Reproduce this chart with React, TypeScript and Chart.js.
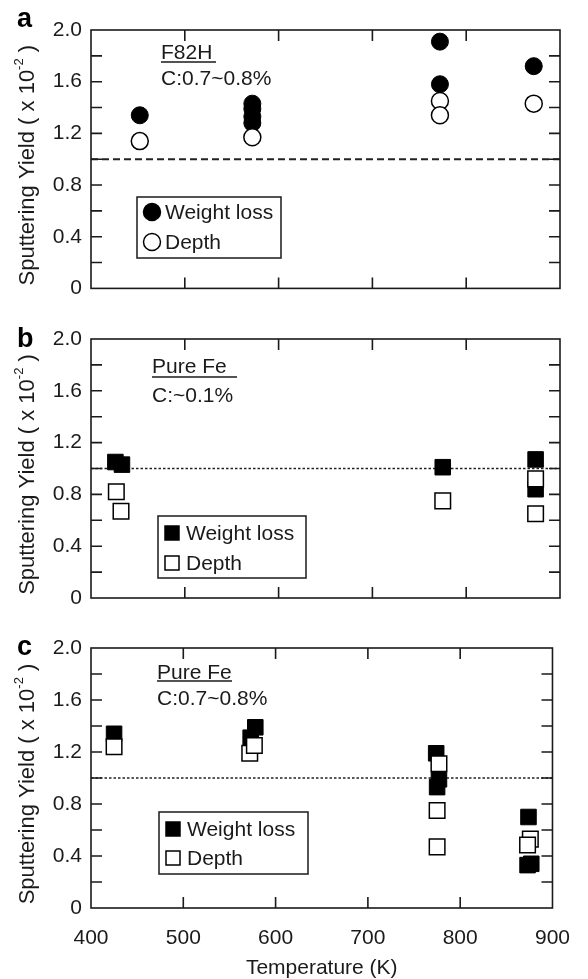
import React, { useEffect, useRef } from 'react';
import { Chart, registerables } from 'chart.js';
Chart.register(...registerables);

const FONT = '"Liberation Sans", Arial, Helvetica, sans-serif';
const INK = '#1a1a1a';

// Axis ticks
const X_TICKS = [400, 500, 600, 700, 800, 900];
const Y_TICKS = [0, 0.4, 0.8, 1.2, 1.6, 2.0];
const Y_MINOR_TICKS = [0.2, 0.6, 1.0, 1.4, 1.8];
// Reference line (yield = 1.0)
const REF_T = [400, 900];
const REF_Y = [1.0, 1.0];

// Panel a: F82H
const aWeightT = [452, 572, 572, 572, 572, 772, 772, 872];
const aWeightY = [1.34, 1.43, 1.39, 1.33, 1.28, 1.91, 1.58, 1.72];
const aDepthT = [452, 572, 772, 772, 872];
const aDepthY = [1.14, 1.17, 1.45, 1.34, 1.43];
// Panel b: Pure Fe, C ~0.1%
const bWeightT = [426, 433, 775, 874, 874];
const bWeightY = [1.05, 1.03, 1.01, 1.07, 0.84];
const bDepthT = [427, 432, 775, 874, 874];
const bDepthY = [0.82, 0.67, 0.75, 0.92, 0.65];
// Panel c: Pure Fe, C 0.7~0.8%
const cWeightT = [425, 573, 578, 774, 777, 775, 874, 873, 877];
const cWeightY = [1.34, 1.31, 1.39, 1.19, 0.99, 0.93, 0.70, 0.33, 0.34];
const cDepthT = [425, 572, 577, 777, 775, 775, 876, 873];
const cDepthY = [1.24, 1.19, 1.25, 1.11, 0.75, 0.47, 0.53, 0.485];

const LEGEND_LABELS = ['Weight loss', 'Depth'];
const Y_TITLE = 'Sputtering Yield ( x 10';
const Y_TITLE_SUP = '-2';
const Y_TITLE_END = ' )';
const X_TITLE = 'Temperature (K)';

type Panel = {
  key: string;
  letter: string;
  shape: 'circle' | 'rect';
  weightT: number[]; weightY: number[]; depthT: number[]; depthY: number[];
  notes: string[];
  canvasTop: number; canvasH: number; areaTop: number; xAxisH: number; showX: boolean;
  letterY: number;
  noteX: number; noteY: number[]; underline: number[];
  legend: { x1: number; y1: number; x2: number; y2: number; mx: number; my: number[]; tx: number };
  dash: number[]; dashW: number;
};

const PANELS: Panel[] = [
  {
    key: 'a', letter: 'a', shape: 'circle',
    weightT: aWeightT, weightY: aWeightY, depthT: aDepthT, depthY: aDepthY,
    notes: ['F82H', 'C:0.7~0.8%'],
    canvasTop: 0, canvasH: 310, areaTop: 30, xAxisH: 20, showX: false,
    letterY: 27,
    noteX: 161, noteY: [53, 79], underline: [161, 216, 62],
    legend: { x1: 137, y1: 197, x2: 281, y2: 258, mx: 152, my: [212, 242], tx: 165 },
    dash: [7, 4], dashW: 2,
  },
  {
    key: 'b', letter: 'b', shape: 'rect',
    weightT: bWeightT, weightY: bWeightY, depthT: bDepthT, depthY: bDepthY,
    notes: ['Pure Fe', 'C:~0.1%'],
    canvasTop: 310, canvasH: 310, areaTop: 29, xAxisH: 22, showX: false,
    letterY: 37,
    noteX: 152, noteY: [57, 86], underline: [152, 237, 67],
    legend: { x1: 158, y1: 206, x2: 306, y2: 268, mx: 172, my: [223, 253], tx: 186 },
    dash: [2.5, 2], dashW: 1.5,
  },
  {
    key: 'c', letter: 'c', shape: 'rect',
    weightT: cWeightT, weightY: cWeightY, depthT: cDepthT, depthY: cDepthY,
    notes: ['Pure Fe', 'C:0.7~0.8%'],
    canvasTop: 620, canvasH: 359, areaTop: 28, xAxisH: 71, showX: true,
    letterY: 35,
    noteX: 157, noteY: [53, 79], underline: [157, 232, 61],
    legend: { x1: 159, y1: 192, x2: 308, y2: 254, mx: 173, my: [209, 238], tx: 187 },
    dash: [2.5, 2], dashW: 1.5,
  },
];

function drawMarker(ctx: CanvasRenderingContext2D, shape: string, x: number, y: number, filled: boolean) {
  ctx.beginPath();
  if (shape === 'circle') {
    ctx.arc(x, y, 8.5, 0, Math.PI * 2);
  } else {
    ctx.rect(x - 7, y - 7, 14, 14);
  }
  ctx.fillStyle = filled ? '#000' : '#fff';
  ctx.fill();
  ctx.lineWidth = 1.5;
  ctx.strokeStyle = '#000';
  ctx.stroke();
}

function decoPlugin(p: Panel) {
  return {
    id: 'deco_' + p.key,
    afterDraw(chart: any) {
      const ctx: CanvasRenderingContext2D = chart.ctx;
      const { left, right, top, bottom } = chart.chartArea;
      const xs = chart.scales.x;
      const ys = chart.scales.y;
      ctx.save();
      // frame
      ctx.strokeStyle = INK;
      ctx.lineWidth = 1.6;
      ctx.strokeRect(left, top, right - left, bottom - top);
      // inward ticks
      const TL = 11;
      ctx.beginPath();
      [...Y_TICKS, ...Y_MINOR_TICKS].forEach((v) => {
        if (v <= Y_TICKS[0] || v >= Y_TICKS[Y_TICKS.length - 1]) return;
        const y = ys.getPixelForValue(v);
        ctx.moveTo(left, y); ctx.lineTo(left + TL, y);
        ctx.moveTo(right, y); ctx.lineTo(right - TL, y);
      });
      X_TICKS.forEach((v) => {
        if (v <= X_TICKS[0] || v >= X_TICKS[X_TICKS.length - 1]) return;
        const x = xs.getPixelForValue(v);
        ctx.moveTo(x, top); ctx.lineTo(x, top + TL);
        ctx.moveTo(x, bottom); ctx.lineTo(x, bottom - TL);
      });
      ctx.stroke();

      // panel letter
      ctx.fillStyle = '#000';
      ctx.font = `bold 27px ${FONT}`;
      ctx.textAlign = 'left';
      ctx.textBaseline = 'alphabetic';
      ctx.fillText(p.letter, 17, p.letterY);

      // notes
      ctx.fillStyle = INK;
      ctx.font = `21px ${FONT}`;
      ctx.textBaseline = 'middle';
      p.notes.forEach((t, i) => ctx.fillText(t, p.noteX, p.noteY[i]));
      ctx.beginPath();
      ctx.lineWidth = 1.5;
      ctx.moveTo(p.underline[0], p.underline[2]);
      ctx.lineTo(p.underline[1], p.underline[2]);
      ctx.stroke();

      // legend
      const L = p.legend;
      ctx.lineWidth = 1.5;
      ctx.strokeStyle = INK;
      ctx.strokeRect(L.x1, L.y1, L.x2 - L.x1, L.y2 - L.y1);
      LEGEND_LABELS.forEach((t, i) => {
        drawMarker(ctx, p.shape, L.mx, L.my[i], i === 0);
        ctx.fillStyle = INK;
        ctx.font = `21px ${FONT}`;
        ctx.textBaseline = 'middle';
        ctx.textAlign = 'left';
        ctx.fillText(t, L.tx, L.my[i] + 1);
      });

      // y title (rotated with superscript)
      ctx.save();
      const cy = (top + bottom) / 2 + 6;
      ctx.translate(28, cy);
      ctx.rotate(-Math.PI / 2);
      const mainFont = `22px ${FONT}`;
      const supFont = `13px ${FONT}`;
      ctx.font = mainFont;
      const w1 = ctx.measureText(Y_TITLE).width;
      const w3 = ctx.measureText(Y_TITLE_END).width;
      ctx.font = supFont;
      const w2 = ctx.measureText(Y_TITLE_SUP).width;
      const total = w1 + w2 + w3;
      const x0 = -total / 2;
      ctx.fillStyle = INK;
      ctx.textAlign = 'left';
      ctx.textBaseline = 'middle';
      ctx.font = mainFont;
      ctx.fillText(Y_TITLE, x0, 0);
      ctx.font = supFont;
      ctx.fillText(Y_TITLE_SUP, x0 + w1, -9);
      ctx.font = mainFont;
      ctx.fillText(Y_TITLE_END, x0 + w1 + w2, 0);
      ctx.restore();

      // x title
      if (p.showX) {
        ctx.fillStyle = INK;
        ctx.font = `21px ${FONT}`;
        ctx.textAlign = 'center';
        ctx.textBaseline = 'middle';
        ctx.fillText(X_TITLE, (left + right) / 2, 348);
      }
      ctx.restore();
    },
  };
}

function PanelChart({ p }: { p: Panel }) {
  const ref = useRef<HTMLCanvasElement | null>(null);
  useEffect(() => {
    if (!ref.current) return;
    const pts = (xs: number[], ys: number[]) => xs.map((x, i) => ({ x, y: ys[i] }));
    const r = p.shape === 'circle' ? 8.5 : 11;
    const chart = new Chart(ref.current, {
      type: 'scatter',
      data: {
        datasets: [
          {
            label: LEGEND_LABELS[1],
            data: pts(p.depthT, p.depthY),
            pointStyle: p.shape,
            pointRadius: r,
            backgroundColor: '#fff',
            borderColor: '#000',
            borderWidth: 1.5,
            order: 0,
          },
          {
            label: LEGEND_LABELS[0],
            data: pts(p.weightT, p.weightY),
            pointStyle: p.shape,
            pointRadius: r,
            backgroundColor: '#000',
            borderColor: '#000',
            borderWidth: 1,
            order: 1,
          },
          {
            type: 'line',
            label: 'ref',
            data: pts(REF_T, REF_Y),
            borderColor: '#222',
            borderWidth: p.dashW,
            borderDash: p.dash,
            pointRadius: 0,
            showLine: true,
            order: 2,
          } as any,
        ],
      },
      options: {
        responsive: false,
        animation: false,
        events: [],
        layout: { padding: { left: 0, right: 28, top: p.areaTop, bottom: 0 } },
        plugins: { legend: { display: false }, tooltip: { enabled: false } },
        scales: {
          x: {
            type: 'linear',
            min: X_TICKS[0],
            max: X_TICKS[X_TICKS.length - 1],
            afterBuildTicks: (s: any) => { s.ticks = X_TICKS.map((v) => ({ value: v })); },
            afterFit: (s: any) => { s.height = p.xAxisH; },
            grid: { display: false, drawTicks: false },
            border: { display: false },
            ticks: {
              display: p.showX,
              autoSkip: false,
              maxRotation: 0,
              padding: 18,
              color: INK,
              font: { family: FONT, size: 21 },
              callback: (v: any) => String(v),
            },
          },
          y: {
            type: 'linear',
            min: Y_TICKS[0],
            max: Y_TICKS[Y_TICKS.length - 1],
            afterBuildTicks: (s: any) => { s.ticks = Y_TICKS.map((v) => ({ value: v })); },
            afterFit: (s: any) => { s.width = 91; },
            grid: { display: false, drawTicks: false },
            border: { display: false },
            ticks: {
              padding: 9,
              color: INK,
              font: { family: FONT, size: 21 },
              callback: (v: any) => (Number(v) === 0 ? '0' : Number(v).toFixed(1)),
            },
          },
        },
      },
      plugins: [decoPlugin(p)],
    } as any);
    return () => chart.destroy();
  }, [p]);
  return (
    <canvas
      ref={ref}
      width={588}
      height={p.canvasH}
      style={{ position: 'absolute', left: 0, top: p.canvasTop, width: 588, height: p.canvasH, display: 'block' }}
    />
  );
}

export default function App() {
  return (
    <div style={{ position: 'absolute', left: 0, top: 0, width: 588, height: 979, background: '#fff', overflow: 'hidden' }}>
      {PANELS.map((p) => (
        <PanelChart key={p.key} p={p} />
      ))}
    </div>
  );
}
